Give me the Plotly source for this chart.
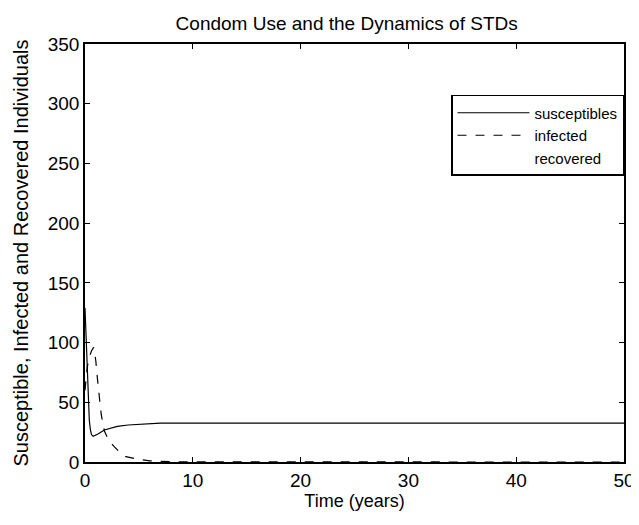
import plotly.graph_objects as go

# time (years) and population values
t_s = [0, 0.1, 0.2, 0.3, 0.4, 0.5, 0.6, 0.75, 0.9, 1.2, 1.8, 2.5, 3.0, 4.0, 5.0, 6.0, 7.0, 10, 20, 30, 40, 50]
susceptibles = [129, 105, 75, 50, 35, 27, 23, 21.5, 22, 23.5, 26.8, 28.8, 29.8, 31, 31.5, 32, 32.5, 32.5, 32.5, 32.5, 32.5, 32.5]

t_i = [0, 0.1, 0.2, 0.4, 0.6, 0.8, 1.0, 1.15, 1.3, 1.5, 1.8, 2.2, 2.75, 3.3, 3.8, 4.8, 6.0, 7.0, 8.0, 10, 20, 30, 40, 50]
infected = [60, 70, 79, 88, 93, 96, 85, 70, 55, 40, 26, 18, 12.5, 7.5, 4.5, 2.5, 1, 0.5, 0.2, 0.05, 0, 0, 0, 0]

x_ticks = [0, 10, 20, 30, 40, 50]
y_ticks = [0, 50, 100, 150, 200, 250, 300, 350]

fig = go.Figure()
fig.add_trace(go.Scatter(x=t_s, y=susceptibles, mode='lines', name='susceptibles',
                         line=dict(color='black', width=1.2)))
fig.add_trace(go.Scatter(x=t_i, y=infected, mode='lines', name='infected',
                         line=dict(color='black', width=1.2, dash='dash')))
# recovered curve is not visible in the print; keep the legend entry only
fig.add_trace(go.Scatter(x=[None], y=[None], mode='lines', name='recovered',
                         line=dict(color='rgba(0,0,0,0)', width=1)))

axis_style = dict(showline=True, linecolor='black', linewidth=1.5, mirror='ticks',
                  ticks='inside', ticklen=5, tickcolor='black', showgrid=False,
                  zeroline=False, tickfont=dict(size=19, color='black'))

# page body has an 8px margin, so the figure is offset by that much
fig.update_layout(
    width=639, height=525,
    margin=dict(l=75, r=18, t=36, b=71),
    paper_bgcolor='white', plot_bgcolor='white',
    font=dict(family='Liberation Sans, Arial, sans-serif', color='black'),
    title=dict(text='Condom Use and the Dynamics of STDs', x=0.53, xanchor='center',
               y=0.97, yanchor='middle', font=dict(size=19)),
    xaxis=dict(range=[0, 50], tickvals=x_ticks,
               title=dict(text='Time (years)', font=dict(size=18), standoff=0),
               **axis_style),
    yaxis=dict(range=[0, 350], tickvals=y_ticks,
               title=dict(text='Susceptible, Infected and Recovered Individuals',
                          font=dict(size=20), standoff=14),
               **axis_style),
    legend=dict(x=1.0, xanchor='right', y=0.878, yanchor='top', bgcolor='white',
                bordercolor='black', borderwidth=1.5, font=dict(size=15),
                tracegroupgap=0, itemwidth=72),
    showlegend=True,
)

fig.write_html("out.html")
